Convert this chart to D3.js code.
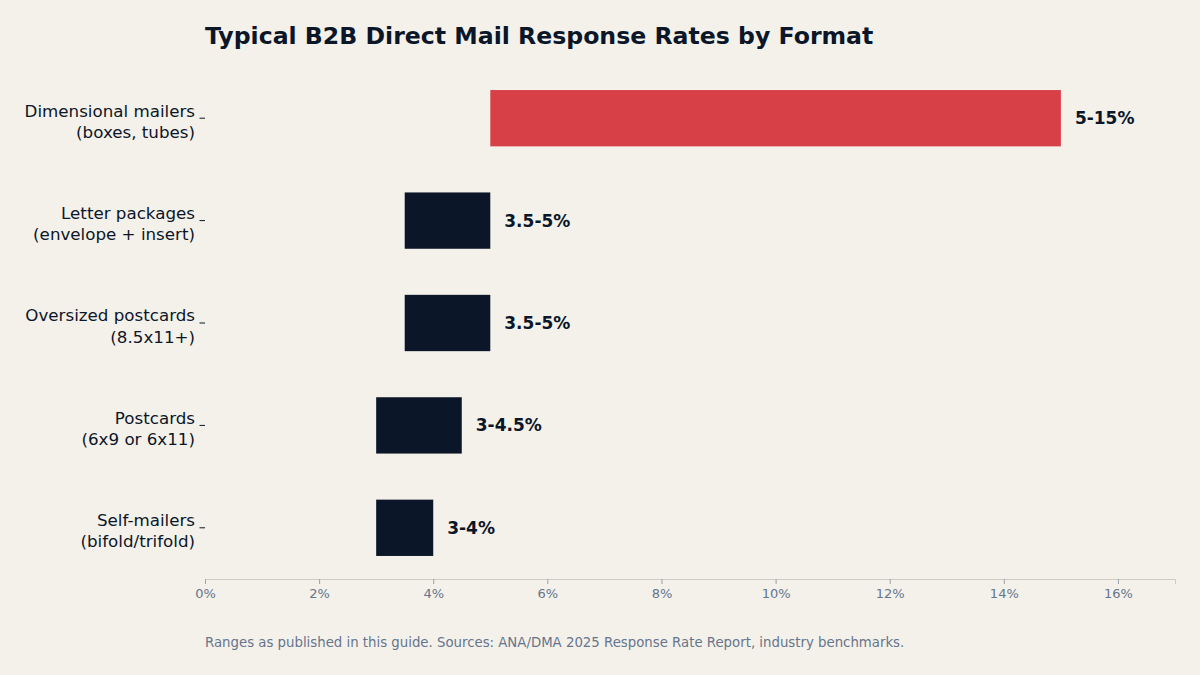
<!DOCTYPE html>
<html>
<head>
<meta charset="utf-8">
<script src="https://cdn.jsdelivr.net/npm/d3@7"></script>
<style>
  body { margin: 0; background: #f4f1ea; }
  svg { display: block; font-family: "DejaVu Sans", sans-serif; }
</style>
</head>
<body>
<div id="chart"></div>
<script>
var formats = [
  ["Dimensional mailers", "(boxes, tubes)"],
  ["Letter packages", "(envelope + insert)"],
  ["Oversized postcards", "(8.5x11+)"],
  ["Postcards", "(6x9 or 6x11)"],
  ["Self-mailers", "(bifold/trifold)"]
];
var lowValues = [5, 3.5, 3.5, 3, 3];
var highValues = [15, 5, 5, 4.5, 4];
var rangeLabels = ["5-15%", "3.5-5%", "3.5-5%", "3-4.5%", "3-4%"];
var xTicks = [0, 2, 4, 6, 8, 10, 12, 14, 16];

var width = 1200, height = 675;
var mLeft = 205, mRight = 1175, mTop = 67, mBottom = 579;

var svg = d3.select("#chart").append("svg")
  .attr("width", width).attr("height", height);

svg.append("rect").attr("width", width).attr("height", height).attr("fill", "#f4f1ea");

var x = d3.scaleLinear().domain([0, 17]).range([mLeft, mRight]);
var y = d3.scaleBand().domain(d3.range(formats.length))
  .range([mTop, mBottom]).paddingInner(0.45).paddingOuter(0.225);

// bars
svg.selectAll("rect.bar").data(formats).enter().append("rect")
  .attr("class", "bar")
  .attr("x", function(d, i) { return x(lowValues[i]); })
  .attr("y", function(d, i) { return y(i); })
  .attr("width", function(d, i) { return x(highValues[i]) - x(lowValues[i]); })
  .attr("height", y.bandwidth())
  .attr("fill", function(d, i) { return i === 0 ? "#d84047" : "#0b1628"; });

// value labels
svg.selectAll("text.val").data(formats).enter().append("text")
  .attr("class", "val")
  .attr("x", function(d, i) { return x(highValues[i]) + 14; })
  .attr("y", function(d, i) { return y(i) + y.bandwidth() / 2; })
  .attr("dy", "0.35em")
  .attr("font-size", 17).attr("font-weight", "bold")
  .attr("fill", "#0b1628")
  .text(function(d, i) { return rangeLabels[i]; });

// y axis: tick marks + two-line labels
var yg = svg.append("g");
yg.selectAll("line").data(formats).enter().append("line")
  .attr("x1", 199.5).attr("x2", 205)
  .attr("y1", function(d, i) { return y(i) + y.bandwidth() / 2; })
  .attr("y2", function(d, i) { return y(i) + y.bandwidth() / 2; })
  .attr("stroke", "#0b1628").attr("stroke-width", 1);
var lbl = yg.selectAll("text").data(formats).enter().append("text")
  .attr("text-anchor", "end")
  .attr("font-size", 16.7).attr("fill", "#0b1628")
  .attr("y", function(d, i) { return y(i) + y.bandwidth() / 2 + 3; });
lbl.append("tspan").attr("x", 195).attr("dy", "-0.28em").text(function(d) { return d[0]; });
lbl.append("tspan").attr("x", 195).attr("dy", "1.27em").text(function(d) { return d[1]; });

// x axis
var xAxis = svg.append("g")
  .attr("transform", "translate(0," + mBottom + ")")
  .call(d3.axisBottom(x).tickValues(xTicks).tickSize(5).tickPadding(5)
    .tickFormat(function(d) { return d + "%"; }));
xAxis.select(".domain").attr("stroke", "#cfcac2");
xAxis.selectAll(".tick line").attr("stroke", "#9aa1ab");
xAxis.selectAll(".tick text").attr("fill", "#66758c").attr("font-size", 13)
  .attr("font-family", "DejaVu Sans, sans-serif");

// title
svg.append("text")
  .attr("x", mLeft).attr("y", 36).attr("dy", "0.35em")
  .attr("font-size", 23.6).attr("font-weight", "bold").attr("fill", "#0b1628")
  .text("Typical B2B Direct Mail Response Rates by Format");

// footnote
svg.append("text")
  .attr("x", mLeft).attr("y", 642).attr("dy", "0.35em")
  .attr("font-size", 13.3).attr("fill", "#66758c")
  .text("Ranges as published in this guide. Sources: ANA/DMA 2025 Response Rate Report, industry benchmarks.");
</script>
</body>
</html>
